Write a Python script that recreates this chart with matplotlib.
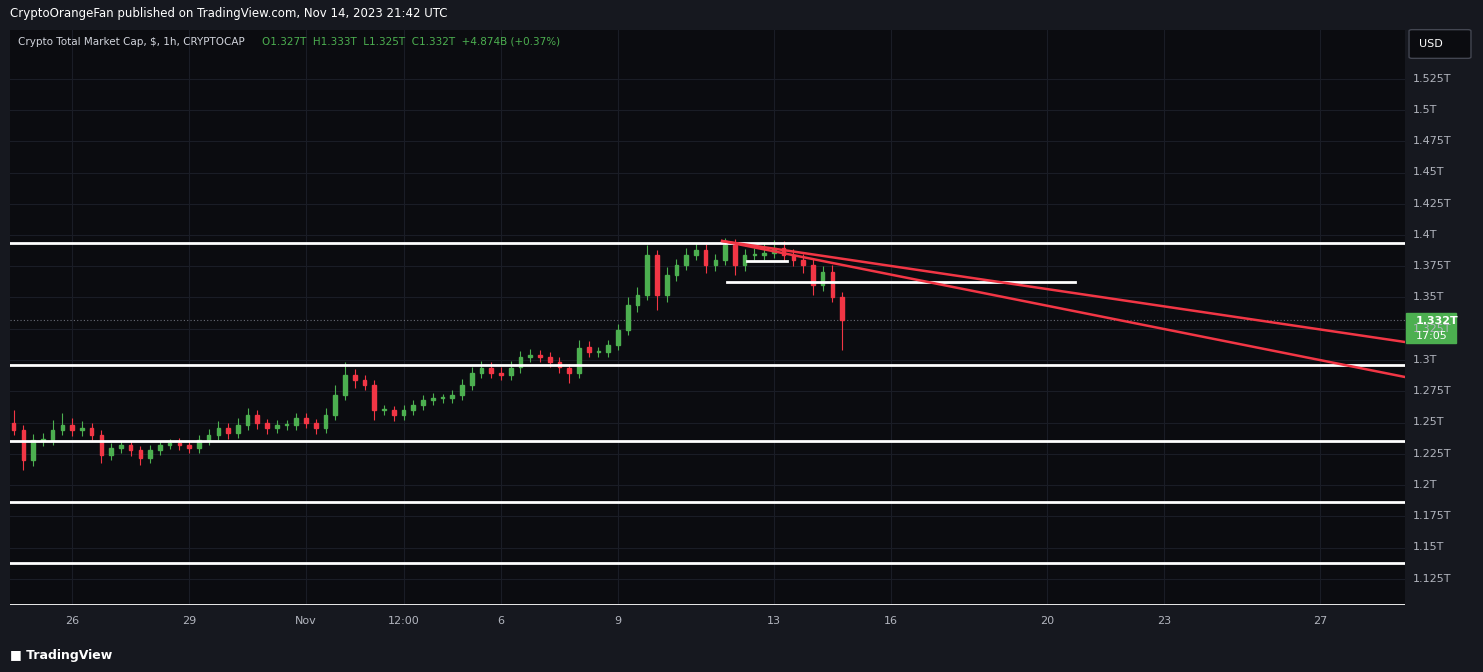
import matplotlib
matplotlib.use("Agg")
import matplotlib.pyplot as plt
from matplotlib.patches import Rectangle, FancyBboxPatch

# 6-hour bars, x = days since Oct 26 00:00
start_day = -1.5
step = 0.25
closes = [1.244,1.220,1.236,1.236,1.244,1.248,1.244,1.246,1.240,1.224,
          1.230,1.232,1.228,1.222,1.228,1.232,1.234,1.232,1.230,1.236,
          1.240,1.246,1.242,1.248,1.256,1.250,1.246,1.248,1.248,1.254,
          1.250,1.246,1.256,1.272,1.288,1.284,1.280,1.260,1.260,1.256,
          1.260,1.264,1.268,1.270,1.270,1.272,1.280,1.290,1.294,1.290,
          1.288,1.294,1.302,1.304,1.302,1.298,1.294,1.290,1.310,1.306,
          1.306,1.312,1.324,1.344,1.352,1.384,1.352,1.368,1.376,1.384,
          1.388,1.376,1.380,1.392,1.376,1.384,1.384,1.386,1.390,1.384,
          1.380,1.376,1.360,1.370,1.350,1.332]
first_open = 1.250
wick_up = [10,4,5,6,8,10,6,5,4,4,4,3,3,3,4,3,3,4,3,4,
           5,5,4,6,6,4,3,4,4,4,4,3,6,8,10,5,4,4,4,3,
           4,4,4,4,3,4,5,4,5,4,4,5,5,5,4,4,4,3,6,5,
           4,4,5,6,6,8,4,6,5,6,6,5,5,6,5,5,6,8,6,5,
           5,5,5,5,6,4]
wick_dn = [4,8,5,5,4,4,5,5,4,6,4,4,5,6,4,4,3,4,4,4,
           4,4,5,4,4,5,5,4,4,4,4,5,4,4,4,6,4,8,4,5,
           4,4,4,4,4,4,4,4,4,4,4,4,4,4,4,4,4,8,4,4,
           4,4,4,4,6,4,12,6,5,4,4,6,5,4,8,5,4,4,4,5,
           5,6,8,5,4,24]

hlines = [1.3936, 1.296, 1.2352, 1.1864, 1.1376, 1.104]
short_lines = [(16.80, 25.72, 1.3624), (17.31, 18.33, 1.379)]
red_lines = [((16.67, 1.3952), (34.18, 1.3144)), ((16.67, 1.3952), (34.18, 1.2864))]
ytick_vals = [1.125,1.15,1.175,1.2,1.225,1.25,1.275,1.3,1.325,1.35,1.375,1.4,1.425,1.45,1.475,1.5,1.525]
ytick_labels = ["1.125T","1.15T","1.175T","1.2T","1.225T","1.25T","1.275T","1.3T","1.325T","1.35T",
                "1.375T","1.4T","1.425T","1.45T","1.475T","1.5T","1.525T"]
xtick_vals = [0, 3, 6, 8.5, 11, 14, 18, 21, 25, 28, 32]
xtick_labels = ["26","29","Nov","12:00","6","9","13","16","20","23","27"]
last_price = 1.332

W, H = 1483, 672
BG = "#0b0c10"
fig = plt.figure(figsize=(W/100, H/100), dpi=100, facecolor="#16181f")
ax = fig.add_axes([10/W, (H-605)/H, 1395/W, (605-30)/H], facecolor=BG)
ax.set_xlim(-1.59, 34.18)
ax.set_ylim(1.104, 1.564)

for v in ytick_vals:
    ax.axhline(v, color="#1a1d26", lw=0.8, zorder=0)
for v in xtick_vals:
    ax.axvline(v, color="#1a1d26", lw=0.8, zorder=0)

opens = [first_open] + closes[:-1]
for i, c in enumerate(closes):
    x = start_day + i*step
    o = opens[i]
    hi = max(o, c) + wick_up[i]/1000
    lo = min(o, c) - wick_dn[i]/1000
    col = "#4caf50" if c >= o else "#f23645"
    ax.vlines(x, lo, hi, color=col, lw=0.8, zorder=2)
    ax.add_patch(Rectangle((x-0.045, min(o, c)), 0.09, max(abs(c-o), 0.0008), color=col, zorder=3))

for v in hlines:
    ax.axhline(v, color="white", lw=2, zorder=4)
for x0, x1, v in short_lines:
    ax.plot([x0, x1], [v, v], color="white", lw=2, zorder=4)
for (x0, y0), (x1, y1) in red_lines:
    ax.plot([x0, x1], [y0, y1], color="#f23645", lw=1.8, zorder=4)
ax.axhline(last_price, color="#6a6d78", lw=0.8, ls=(0, (1, 2)), zorder=1)

ax.set_yticks([])
ax.set_xticks([])
for s in ax.spines.values():
    s.set_visible(False)

for v, l in zip(ytick_vals, ytick_labels):
    yp = 235 + (1.4 - v) * 1250
    fig.text(1413/W, 1 - yp/H, l, color="#b2b5be", fontsize=8, va="center", ha="left")
for v, l in zip(xtick_vals, xtick_labels):
    xp = 72 + v*39
    fig.text(xp/W, 1 - 621/H, l, color="#b2b5be", fontsize=8, va="center", ha="center")

fig.patches.append(Rectangle((1406/W, 1-343/H), 50/W, 30/H, transform=fig.transFigure, color="#4caf50"))
fig.text(1416/W, 1-321/H, "1.332T", color="white", fontsize=8, va="center", fontweight="bold")
fig.text(1416/W, 1-336/H, "17:05", color="white", fontsize=8, va="center")

fig.patches.append(FancyBboxPatch((1412/W, 1-57/H), 56/W, 26/H, boxstyle="round,pad=0.002",
                                  transform=fig.transFigure, facecolor="#0b0c10", edgecolor="#434651"))
fig.text(1431/W, 1-44/H, "USD", color="white", fontsize=8, va="center", ha="center")

fig.text(10/W, 1-14/H, "CryptoOrangeFan published on TradingView.com, Nov 14, 2023 21:42 UTC",
         color="white", fontsize=8.5, va="center")
fig.text(18/W, 1-42/H, "Crypto Total Market Cap, $, 1h, CRYPTOCAP", color="#d1d4dc", fontsize=7.5, va="center")
fig.text(262/W, 1-42/H, "O1.327T  H1.333T  L1.325T  C1.332T  +4.874B (+0.37%)", color="#4caf50",
         fontsize=7.5, va="center")
fig.text(10/W, 1-655/H, "\u25a0 TradingView", color="white", fontsize=9, va="center", fontweight="bold")

fig.savefig("out.png", dpi=100, facecolor=fig.get_facecolor())
